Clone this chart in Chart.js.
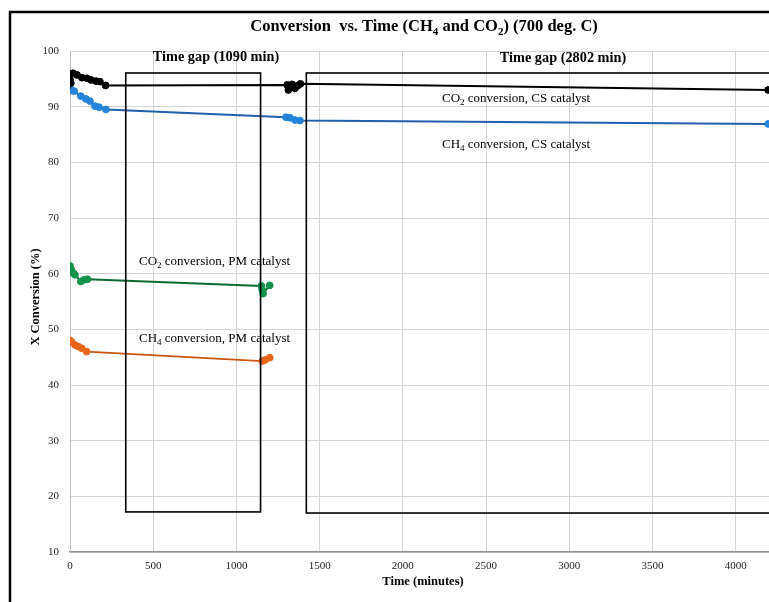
<!DOCTYPE html>
<html>
<head>
<meta charset="utf-8">
<script src="https://cdn.jsdelivr.net/npm/chart.js@4/dist/chart.umd.min.js"></script>
<style>
  html, body { margin: 0; padding: 0; background: #fff; }
  #wrap { width: 769px; height: 602px; position: relative; }
</style>
</head>
<body>
<div id="wrap"><canvas id="c" width="769" height="602"></canvas></div>
<script>
// ---- data (time in minutes, conversion in %) ----
const co2CS_time = [0, 2, 5, 18, 42, 72, 102, 126, 156, 180, 214, 1305, 1312, 1335, 1352, 1370, 1385, 4195];
const co2CS_conv = [94.9, 95.8, 94.2, 96.0, 95.7, 95.2, 95.1, 94.8, 94.6, 94.5, 93.8, 93.9, 93.0, 94.0, 93.3, 93.8, 94.1, 93.0];

const ch4CS_time = [0, 10, 25, 65, 95, 120, 150, 175, 216, 1298, 1322, 1352, 1382, 4195];
const ch4CS_conv = [92.9, 92.9, 92.8, 91.9, 91.4, 91.0, 90.1, 89.9, 89.5, 88.1, 88.0, 87.6, 87.5, 86.9];

const co2PM_time = [0, 8, 20, 30, 65, 85, 105, 1150, 1155, 1160, 1200];
const co2PM_conv = [61.4, 60.7, 60.1, 59.8, 58.6, 58.9, 59.0, 57.8, 57.1, 56.4, 57.9];

const ch4PM_time = [0, 10, 30, 50, 70, 100, 1155, 1172, 1200];
const ch4PM_conv = [48.0, 47.7, 47.2, 46.9, 46.6, 46.0, 44.3, 44.5, 44.9];

const xTicks = [0, 500, 1000, 1500, 2000, 2500, 3000, 3500, 4000];
const yTicks = [10, 20, 30, 40, 50, 60, 70, 80, 90, 100];

const toPts = (t, v) => t.map((x, i) => ({ x: x, y: v[i] }));

const SERIF = '"Liberation Serif", "Times New Roman", serif';

// draw text with subscript parts: parts = [[text, isSub], ...]
function richWidth(ctx, parts, size, bold) {
  let w = 0;
  parts.forEach(([t, sub]) => {
    ctx.font = (bold ? 'bold ' : '') + (sub ? Math.round(size * 0.68) : size) + 'px ' + SERIF;
    w += ctx.measureText(t).width;
  });
  return w;
}
function drawRich(ctx, parts, x, y, size, bold, align) {
  ctx.save();
  ctx.textBaseline = 'alphabetic';
  ctx.textAlign = 'left';
  ctx.fillStyle = '#000';
  let w = richWidth(ctx, parts, size, bold);
  let cx = align === 'center' ? x - w / 2 : x;
  parts.forEach(([t, sub]) => {
    const s = sub ? Math.round(size * 0.68) : size;
    ctx.font = (bold ? 'bold ' : '') + s + 'px ' + SERIF;
    ctx.fillText(t, cx, sub ? y + size * 0.22 : y);
    cx += ctx.measureText(t).width;
  });
  ctx.restore();
}

const overlay = {
  id: 'overlay',
  beforeDraw(chart) {
    const ctx = chart.ctx;
    ctx.save();
    ctx.fillStyle = '#fff';
    ctx.fillRect(0, 0, chart.width, chart.height);
    ctx.restore();
  },
  afterDraw(chart) {
    const ctx = chart.ctx;
    const xs = chart.scales.x, ys = chart.scales.y;
    ctx.save();
    // outer frame
    ctx.strokeStyle = '#000';
    ctx.lineWidth = 2.5;
    ctx.beginPath();
    ctx.moveTo(10, 640); ctx.lineTo(10, 12); ctx.lineTo(800, 12);
    ctx.stroke();

    // time gap boxes
    ctx.lineWidth = 1.6;
    const box = (t0, t1, v0, v1) => {
      const x0 = xs.getPixelForValue(t0), x1 = xs.getPixelForValue(t1);
      const y0 = ys.getPixelForValue(v0), y1 = ys.getPixelForValue(v1);
      ctx.strokeRect(x0, y0, x1 - x0, y1 - y0);
    };
    box(335, 1145, 96.05, 17.2);
    box(1420, 4300, 96.05, 17.0);
    ctx.restore();

    // title
    drawRich(ctx, [['Conversion  vs. Time (CH', false], ['4', true], [' and CO', false], ['2', true], [') (700 deg. C)', false]], 424, 31, 16.5, true, 'center');
    // box labels
    drawRich(ctx, [['Time gap (1090 min)', false]], 216, 61, 14.3, true, 'center');
    drawRich(ctx, [['Time gap (2802 min)', false]], 563, 62, 14.3, true, 'center');
    // series labels
    drawRich(ctx, [['CO', false], ['2', true], [' conversion, CS catalyst', false]], 442, 102, 13, false, 'left');
    drawRich(ctx, [['CH', false], ['4', true], [' conversion, CS catalyst', false]], 442, 148, 13, false, 'left');
    drawRich(ctx, [['CO', false], ['2', true], [' conversion, PM catalyst', false]], 139, 265, 13, false, 'left');
    drawRich(ctx, [['CH', false], ['4', true], [' conversion, PM catalyst', false]], 139, 342, 13, false, 'left');

    // axis titles
    ctx.save();
    ctx.fillStyle = '#000';
    ctx.font = 'bold 12.5px ' + SERIF;
    ctx.textAlign = 'center';
    ctx.textBaseline = 'middle';
    ctx.fillText('Time (minutes)', 423, 582);
    ctx.translate(36, 297);
    ctx.rotate(-Math.PI / 2);
    ctx.fillText('X Conversion (%)', 0, 0);
    ctx.restore();
  }
};

const mk = (label, t, v, line, point, bw) => ({
  label: label,
  data: toPts(t, v),
  borderColor: line,
  backgroundColor: point,
  pointBackgroundColor: point,
  pointBorderColor: point,
  pointRadius: 3.4,
  pointBorderWidth: 1,
  borderWidth: bw,
  tension: 0,
  showLine: true
});

new Chart(document.getElementById('c'), {
  type: 'scatter',
  data: {
    datasets: [
      mk('CO2 conversion, CS catalyst', co2CS_time, co2CS_conv, '#000000', '#000000', 2),
      mk('CH4 conversion, CS catalyst', ch4CS_time, ch4CS_conv, '#1f5fab', '#2484da', 2),
      mk('CO2 conversion, PM catalyst', co2PM_time, co2PM_conv, '#0b6b35', '#13934b', 2),
      mk('CH4 conversion, PM catalyst', ch4PM_time, ch4PM_conv, '#c9540d', '#e8661a', 1.8)
    ]
  },
  options: {
    responsive: false,
    animation: false,
    devicePixelRatio: 1,
    layout: { autoPadding: false, padding: { top: 51, left: 0, right: 0, bottom: 0 } },
    plugins: { legend: { display: false }, tooltip: { enabled: false }, title: { display: false } },
    scales: {
      x: {
        type: 'linear',
        min: 0, max: 4200,
        afterFit: s => { s.height = 50; s.paddingLeft = 0; s.paddingRight = 0; },
        afterBuildTicks: s => { s.ticks = xTicks.map(v => ({ value: v })); },
        ticks: { font: { family: SERIF, size: 11 }, color: '#222', padding: 8, maxRotation: 0, autoSkip: false,
                 callback: v => String(v) },
        grid: { color: '#d4d4d4', lineWidth: 1, drawTicks: false },
        border: { color: '#8f8f8f', width: 1.5 }
      },
      y: {
        type: 'linear',
        min: 10, max: 100,
        afterFit: s => { s.width = 70; s.paddingTop = 0; s.paddingBottom = 0; },
        afterBuildTicks: s => { s.ticks = yTicks.map(v => ({ value: v })); },
        ticks: { font: { family: SERIF, size: 11 }, color: '#222', padding: 11, autoSkip: false,
                 callback: v => String(v) },
        grid: { color: '#d4d4d4', lineWidth: 1, drawTicks: false },
        border: { color: '#bdbdbd', width: 1 }
      }
    }
  },
  plugins: [overlay]
});
</script>
</body>
</html>
